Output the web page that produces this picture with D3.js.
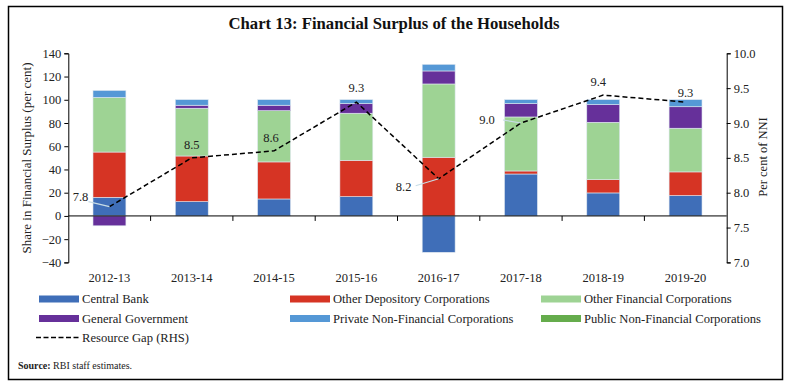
<!DOCTYPE html>
<html><head><meta charset="utf-8">
<script src="https://cdn.jsdelivr.net/npm/d3@7"></script>
<style>body{margin:0;background:#fff;} svg{display:block;} text{font-family:"Liberation Serif","DejaVu Serif",serif;fill:#222;}</style>
</head><body>
<svg id="c" width="790" height="385"></svg>
<script>
const categories = ["2012-13","2013-14","2014-15","2015-16","2016-17","2017-18","2018-19","2019-20"];
const centralBank = [16, 12.3, 14.6, 16.6, -31.3, 36.1, 19.8, 17.5];
const otherDepository = [39, 39.3, 31.9, 31.3, 50.5, 2.6, 11.4, 20.4];
const otherFinancial = [47, 41.1, 44.1, 40.5, 63.1, 46.5, 49.4, 37.6];
const generalGovernment = [-8.5, 2.6, 4.7, 8.3, 11.2, 11.5, 15.2, 18.5];
const privateNFC = [6, 4.8, 4.8, 3.4, 5.7, 3.4, 4.3, 6.1];
const publicNFC = [0, 0, 0, 0, 0, 0, 0, 0];
const resourceGap = [7.8, 8.5, 8.6, 9.3, 8.2, 9.0, 9.4, 9.3];
const leftTicks = [-40,-20,0,20,40,60,80,100,120,140];
const rightTicks = [7.0,7.5,8.0,8.5,9.0,9.5,10.0];

const seriesNames = ["Central Bank","Other Depository Corporations","Other Financial Corporations","General Government","Private Non-Financial Corporations","Public Non-Financial Corporations"];
const seriesData = [centralBank, otherDepository, otherFinancial, generalGovernment, privateNFC, publicNFC];
const colors = ["#3F6EB8","#D63424","#9ED394","#66309A","#5598D6","#65AC4C"];

const svg = d3.select("#c");
svg.append("rect").attr("x",8.5).attr("y",6.5).attr("width",774).attr("height",373)
  .attr("fill","none").attr("stroke","#000").attr("stroke-width",1.5);

svg.append("text").attr("x",394).attr("y",29).attr("text-anchor","middle")
  .style("font-size","16.7px").style("font-weight","bold").style("fill","#111")
  .text("Chart 13: Financial Surplus of the Households");

const x = d3.scaleBand().domain(categories).range([68.3,726.7]).paddingInner(0.6).paddingOuter(0.3);
const y = d3.scaleLinear().domain([-40,140]).range([262.4,53.3]);
const y2 = d3.scaleLinear().domain([7,10]).range([262.4,53.3]);

// stacked bars (positive and negative stacked separately)
const g = svg.append("g");
categories.forEach((c,i)=>{
  let pos=0, neg=0;
  seriesData.forEach((s,k)=>{
    const v = s[i];
    if(!v) return;
    let y0,y1;
    if(v>=0){y0=pos;y1=pos+v;pos=y1;} else {y0=neg;y1=neg+v;neg=y1;}
    g.append("rect").attr("x",x(c)).attr("width",x.bandwidth())
      .attr("y",y(Math.max(y0,y1))).attr("height",Math.abs(y(y0)-y(y1)))
      .attr("fill",colors[k]).attr("stroke","#dfe8f0").attr("stroke-width",0.6);
  });
});

// zero line
svg.append("line").attr("x1",68.3).attr("x2",726.7).attr("y1",y(0)).attr("y2",y(0)).attr("stroke","#000").attr("stroke-width",1);
// x ticks at band boundaries
for(let i=1;i<categories.length;i++){
  const xx = 68.3 + i*(726.7-68.3)/categories.length;
  svg.append("line").attr("x1",xx).attr("x2",xx).attr("y1",y(0)).attr("y2",y(0)+5).attr("stroke","#000");
}
// x labels
categories.forEach(c=>{
  svg.append("text").attr("x",x(c)+x.bandwidth()/2).attr("y",282).attr("text-anchor","middle").style("font-size","12.5px").text(c);
});

// left axis
const la = svg.append("g").attr("transform","translate(68.3,0)").call(d3.axisLeft(y).tickValues(leftTicks).tickSize(4).tickFormat(d3.format("d")));
la.select(".domain").attr("stroke","#000");
la.selectAll("text").style("font-size","12.5px").style("font-family","Liberation Serif, serif").attr("fill","#222");
// right axis
const ra = svg.append("g").attr("transform","translate(726.7,0)").call(d3.axisRight(y2).tickValues(rightTicks).tickSize(4).tickFormat(d3.format(".1f")));
ra.select(".domain").attr("stroke","#000");
ra.selectAll("text").style("font-size","12.5px").style("font-family","Liberation Serif, serif").attr("fill","#222");

// axis titles
svg.append("text").attr("transform","translate(31,158) rotate(-90)").attr("text-anchor","middle").style("font-size","13px").text("Share in Financial Surplus (per cent)");
svg.append("text").attr("transform","translate(767,157) rotate(-90)").attr("text-anchor","middle").style("font-size","12.5px").text("Per cent of NNI");

// resource gap line
const cx = c=>x(c)+x.bandwidth()/2;
const line = d3.line().x((d,i)=>cx(categories[i])).y(d=>y2(d));
svg.append("path").datum(resourceGap).attr("d",line).attr("fill","none").attr("stroke","#000").attr("stroke-width",1.5).attr("stroke-dasharray","5,3");

// data labels
const labelPos = [
  {dx:-29,dy:-6,lead:true,lx:-21,ly:-5},
  {dx:0,dy:-9},
  {dx:-3,dy:-9},
  {dx:0,dy:-10},
  {dx:-35,dy:12,lead:true,lx:-23,ly:7},
  {dx:-34,dy:1,lead:true,lx:-18,ly:-3},
  {dx:-5,dy:-9},
  {dx:0,dy:-5}
];
resourceGap.forEach((v,i)=>{
  const px=cx(categories[i]), py=y2(v), p=labelPos[i];
  if(p.lead){
    svg.append("line").attr("x1",px).attr("y1",py).attr("x2",px+p.lx).attr("y2",py+p.ly).attr("stroke","#c8dde6").attr("stroke-width",1.2);
  }
  svg.append("text").attr("x",px+p.dx).attr("y",py+p.dy).attr("text-anchor","middle").style("font-size","12.5px").text(d3.format(".1f")(v));
});

// legend
const legendCols=[39,290,541], legendRows=[299,318.5];
seriesNames.forEach((n,k)=>{
  const lx=legendCols[k%3], ly=legendRows[Math.floor(k/3)];
  svg.append("rect").attr("x",lx).attr("y",ly-3.5).attr("width",40).attr("height",7).attr("fill",colors[k]);
  svg.append("text").attr("x",lx+43).attr("y",ly+4).style("font-size","12.6px").text(n);
});
svg.append("line").attr("x1",36).attr("x2",79).attr("y1",337.5).attr("y2",337.5).attr("stroke","#000").attr("stroke-width",1.5).attr("stroke-dasharray","5,2.5");
svg.append("text").attr("x",82).attr("y",341.5).style("font-size","12.6px").text("Resource Gap (RHS)");

const src = svg.append("text").attr("x",18).attr("y",369).style("font-size","10px");
src.append("tspan").style("font-weight","bold").text("Source:");
src.append("tspan").text(" RBI staff estimates.");
</script>
</body></html>
